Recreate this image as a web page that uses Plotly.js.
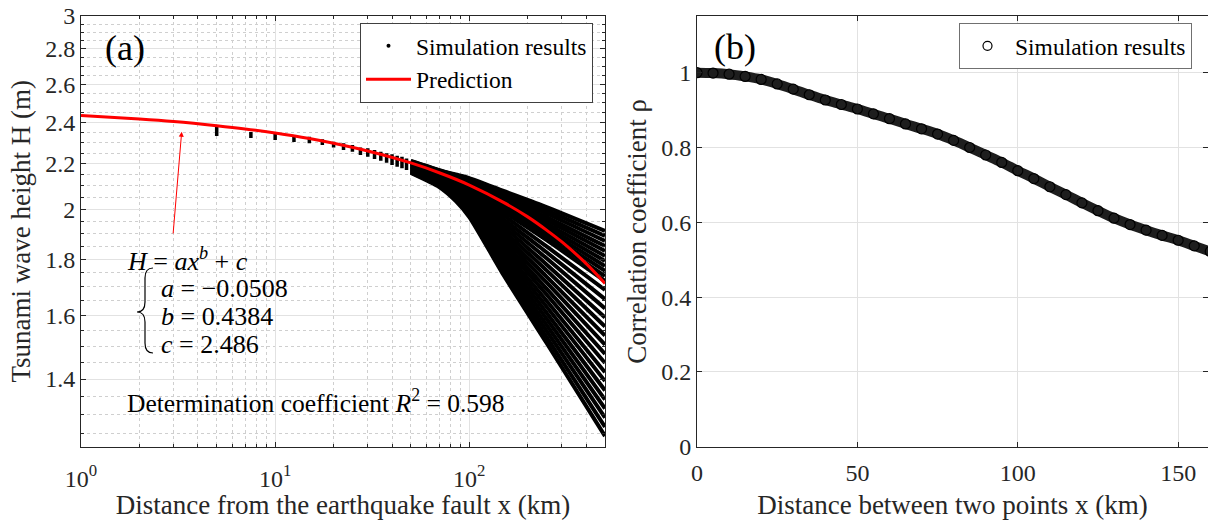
<!DOCTYPE html>
<html>
<head>
<meta charset="utf-8">
<script src="https://cdn.plot.ly/plotly-3.0.1.min.js"></script>
<style>html,body{margin:0;padding:0;background:#fff;}#chart{width:1208px;height:520px;}</style>
</head>
<body>
<div id="chart"></div>
<script>
// ---------------- Panel (a) data ----------------
// distances (km) where the simulated points form separate vertical stacks
const barX = [5,7.5,10,12.5,15,17.5,20,22.5,25,27.5,30,32.5,35,37.5,40,42.5,45,47.5];
const barTop = [2.377,2.352,2.342,2.334,2.329,2.316,2.304,2.297,2.288,2.277,2.273,2.265,2.256,2.249,2.244,2.238,2.233,2.225];
const barBottom = [2.332,2.322,2.313,2.303,2.297,2.288,2.277,2.265,2.256,2.241,2.233,2.222,2.214,2.205,2.194,2.187,2.179,2.171];

// distances (km) sampled along each simulated curve
const simX = [50,70,85,100,150,250,500];
// simulated tsunami heights H (m), one row per simulated curve
const simH = [
  [2.213,2.171,2.151,2.135,2.078,2.009,1.911],
  [2.212,2.170,2.148,2.131,2.069,1.995,1.891],
  [2.210,2.168,2.145,2.127,2.060,1.982,1.871],
  [2.209,2.166,2.142,2.122,2.051,1.967,1.851],
  [2.207,2.164,2.139,2.118,2.042,1.954,1.832],
  [2.206,2.162,2.137,2.114,2.033,1.940,1.813],
  [2.204,2.160,2.134,2.110,2.025,1.927,1.794],
  [2.203,2.158,2.131,2.105,2.016,1.914,1.775],
  [2.202,2.156,2.128,2.101,2.007,1.901,1.757],
  [2.201,2.155,2.125,2.097,1.999,1.887,1.738],
  [2.199,2.152,2.122,2.093,1.990,1.874,1.720],
  [2.197,2.149,2.117,2.086,1.975,1.850,1.688],
  [2.194,2.146,2.112,2.078,1.959,1.827,1.656],
  [2.192,2.142,2.106,2.070,1.944,1.804,1.624],
  [2.189,2.139,2.101,2.063,1.929,1.781,1.593],
  [2.187,2.136,2.096,2.055,1.914,1.759,1.563],
  [2.185,2.132,2.091,2.048,1.899,1.736,1.534],
  [2.182,2.129,2.086,2.041,1.884,1.715,1.505],
  [2.180,2.125,2.080,2.033,1.869,1.693,1.476],
  [2.177,2.122,2.075,2.026,1.855,1.672,1.448],
  [2.175,2.119,2.070,2.018,1.840,1.650,1.420],
  [2.172,2.115,2.065,2.011,1.826,1.630,1.394],
  [2.170,2.112,2.060,2.004,1.812,1.609,1.367],
  [2.167,2.109,2.055,1.996,1.797,1.589,1.341],
  [2.165,2.105,2.050,1.989,1.783,1.569,1.316],
  [2.163,2.102,2.045,1.982,1.769,1.549,1.291],
  [2.160,2.099,2.040,1.975,1.756,1.529,1.266],
  [2.158,2.095,2.035,1.967,1.742,1.510,1.242]
];

// fitted prediction H = a x^b + c
const predX = [1,2,3,5,7,10,15,20,30,50,70,100,150,200,250,300,400,500];
const predH = [2.435,2.417,2.404,2.383,2.367,2.347,2.320,2.297,2.260,2.204,2.159,2.104,2.029,1.968,1.914,1.867,1.784,1.711];

const xTickValsA = [1,10,100];
const xTickTextA = ['10<sup>0</sup>','10<sup>1</sup>','10<sup>2</sup>'];
const yTickValsA = [1.4,1.6,1.8,2,2.2,2.4,2.6,2.8,3];
const yTickTextA = ['1.4','1.6','1.8','2','2.2','2.4','2.6','2.8','3'];

// ---------------- Panel (b) data ----------------
const corrX = [0,5,10,15,20,25,30,35,40,45,50,55,60,65,70,75,80,85,90,95,100,105,110,115,120,125,130,135,140,145,150,155,160];
const corrRho = [1.000,0.999,0.996,0.990,0.982,0.970,0.956,0.941,0.927,0.915,0.903,0.890,0.877,0.863,0.850,0.836,0.819,0.800,0.780,0.760,0.738,0.717,0.695,0.674,0.652,0.631,0.611,0.594,0.579,0.565,0.552,0.537,0.522];
const xTickValsB = [0,50,100,150];
const yTickValsB = [0,0.2,0.4,0.6,0.8,1];
const yTickTextB = ['0','0.2','0.4','0.6','0.8','1'];

// ---------------- build ----------------
const FONT = 'Liberation Serif, Times New Roman, serif';
const AX = '#262626';
const W = 1208, H = 520;
const px = v => v / W;
const py = v => 1 - v / H;

const traces = [];
const bx = [], by = [];
barX.forEach((x, i) => { bx.push(x, x, null); by.push(barBottom[i], barTop[i], null); });
traces.push({type:'scatter', x:bx, y:by, mode:'lines', line:{color:'black', width:3.5},
  showlegend:false, hoverinfo:'skip', xaxis:'x', yaxis:'y'});
simH.forEach(row => traces.push({type:'scatter', x:simX, y:row, mode:'lines',
  line:{color:'black', width:4, shape:'spline', smoothing:0.6}, showlegend:false, hoverinfo:'skip', xaxis:'x', yaxis:'y'}));
traces.push({type:'scatter', x:[null], y:[null], mode:'markers', name:'Simulation results',
  marker:{color:'black', size:4}, xaxis:'x', yaxis:'y'});
traces.push({type:'scatter', x:predX, y:predH, mode:'lines', name:'Prediction',
  line:{color:'#ff0000', width:3, shape:'spline'}, xaxis:'x', yaxis:'y'});
traces.push({type:'scatter', x:corrX, y:corrRho, mode:'lines+markers', showlegend:false,
  line:{color:'#1e1e1e', width:10, shape:'spline'},
  marker:{symbol:'circle-open', size:10, color:'black', line:{width:1.2, color:'black'}}, xaxis:'x2', yaxis:'y2'});
traces.push({type:'scatter', x:[null], y:[null], mode:'markers', name:'Simulation results', legend:'legend2',
  marker:{symbol:'circle-open', size:9, color:'black', line:{width:1.2, color:'black'}}, xaxis:'x2', yaxis:'y2'});

const tickfont = {family:FONT, size:24, color:AX};
const titlefont = {family:FONT, size:27, color:AX};
const common = {ticks:'inside', tickcolor:AX, showline:true, linecolor:AX, linewidth:1, mirror:'ticks',
  zeroline:false, tickfont:tickfont, automargin:false, gridcolor:'#e2e2e2', gridwidth:1, showgrid:true};
const domY = [py(446.7), py(16)];

const braceP = [[153,268],[145,268],[145,278],[145,302],[145,312],[137,312],[145,312],[145,322],[145,343],[145,353],[153,353]];
const bp = braceP.map(p => [px(p[0]), py(p[1])]);
const bracePath = `M ${bp[0][0]} ${bp[0][1]} Q ${bp[1][0]} ${bp[1][1]} ${bp[2][0]} ${bp[2][1]} L ${bp[3][0]} ${bp[3][1]} Q ${bp[4][0]} ${bp[4][1]} ${bp[5][0]} ${bp[5][1]} Q ${bp[6][0]} ${bp[6][1]} ${bp[7][0]} ${bp[7][1]} L ${bp[8][0]} ${bp[8][1]} Q ${bp[9][0]} ${bp[9][1]} ${bp[10][0]} ${bp[10][1]}`;

const mathFont = {family:FONT, size:26, color:'black'};
const layout = {
  width:W, height:H, margin:{l:0, r:0, t:0, b:0}, paper_bgcolor:'white', plot_bgcolor:'white',
  showlegend:true,
  xaxis: Object.assign({}, common, {domain:[px(81), px(605)], anchor:'y', type:'log', range:[0, Math.log10(500)],
    tickmode:'array', tickvals:xTickValsA, ticktext:xTickTextA, ticklen:5, ticklabelstandoff:10,
    minor:{dtick:'D1', ticks:'inside', ticklen:3, tickcolor:AX, showgrid:true, gridcolor:'#cfcfcf', griddash:'dot', gridwidth:1},
    title:{text:'Distance from the earthquake fault x (km)', font:titlefont, standoff:4}}),
  yaxis: Object.assign({}, common, {domain:domY, anchor:'x', type:'log', range:[Math.log10(1.2147), Math.log10(3.0005)],
    tickmode:'array', tickvals:yTickValsA, ticktext:yTickTextA, ticklen:5,
    minor:{tickmode:'linear', tick0:1.2, dtick:'L0.05', ticks:'inside', ticklen:3, tickcolor:AX, showgrid:true, gridcolor:'#cfcfcf', griddash:'dot', gridwidth:1},
    title:{text:'Tsunami wave height H (m)', font:titlefont, standoff:6}}),
  xaxis2: Object.assign({}, common, {domain:[px(697), 1], anchor:'y2', range:[0, 159.3],
    tickmode:'array', tickvals:xTickValsB, ticklen:5, ticklabelstandoff:4,
    title:{text:'Distance between two points x (km)', font:titlefont, standoff:10}}),
  yaxis2: Object.assign({}, common, {domain:domY, anchor:'x2', range:[0, 1.1516],
    tickmode:'array', tickvals:yTickValsB, ticktext:yTickTextB, ticklen:5,
    title:{text:'Correlation coefficient ρ', font:titlefont, standoff:6}}),
  legend:{x:px(593), xanchor:'right', y:py(23), yanchor:'top', bgcolor:'white', bordercolor:'#404040', borderwidth:1,
    font:{family:FONT, size:23.5, color:'black'}, tracegroupgap:0, itemwidth:45},
  legend2:{x:px(1192), xanchor:'right', y:py(23), yanchor:'top', bgcolor:'white', bordercolor:'#707070', borderwidth:1,
    font:{family:FONT, size:23.5, color:'black'}, tracegroupgap:0, itemwidth:45},
  annotations:[
    {xref:'paper', yref:'paper', x:px(125), y:py(48), text:'(a)', showarrow:false, xanchor:'center', yanchor:'middle', font:{family:FONT, size:36, color:'black'}},
    {xref:'paper', yref:'paper', x:px(735), y:py(47), text:'(b)', showarrow:false, xanchor:'center', yanchor:'middle', font:{family:FONT, size:36, color:'black'}},
    {xref:'paper', yref:'paper', x:px(125), y:py(259), text:'<i>H</i> = <i>ax</i><sup><i>b</i></sup> + <i>c</i>', showarrow:false, xanchor:'left', yanchor:'middle', font:mathFont},
    {xref:'paper', yref:'paper', x:px(159), y:py(288), text:'<i>a</i> = −0.0508', showarrow:false, xanchor:'left', yanchor:'middle', font:mathFont},
    {xref:'paper', yref:'paper', x:px(159), y:py(316), text:'<i>b</i> = 0.4384', showarrow:false, xanchor:'left', yanchor:'middle', font:mathFont},
    {xref:'paper', yref:'paper', x:px(159), y:py(344), text:'<i>c</i> = 2.486', showarrow:false, xanchor:'left', yanchor:'middle', font:mathFont},
    {xref:'paper', yref:'paper', x:px(125), y:py(401), text:'Determination coefficient <i>R</i><sup>2</sup> = 0.598', showarrow:false, xanchor:'left', yanchor:'middle', font:{family:FONT, size:25.5, color:'black'}},
    {xref:'paper', yref:'paper', x:px(181.7), y:py(131.7), text:'', showarrow:true, ax:-8.7, ay:103.3,
      arrowhead:2, arrowsize:1, arrowwidth:1, arrowcolor:'#ff0000', standoff:0}
  ],
  shapes:[
    {type:'path', xref:'paper', yref:'paper', path:bracePath, line:{color:'black', width:1.2}}
  ]
};

Plotly.newPlot('chart', traces, layout, {staticPlot:true, displayModeBar:false});
</script>
</body>
</html>
